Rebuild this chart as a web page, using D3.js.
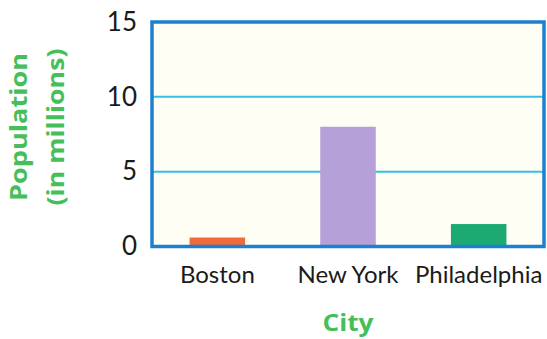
<!DOCTYPE html>
<html>
<head>
<meta charset="utf-8">
<script src="https://cdn.jsdelivr.net/npm/d3@7/dist/d3.min.js"></script>
<style>
  html, body { margin: 0; padding: 0; background: #ffffff; }
  svg { display: block; }
</style>
</head>
<body>
<svg id="chart" width="547" height="339"></svg>
<script>
// City populations, in millions
const cities = ["Boston", "New York", "Philadelphia"];
const population = [0.6, 8.0, 1.5];
const barColors = ["#f06a3c", "#b5a0d8", "#1daa72"];
const yTicks = [0, 5, 10, 15];

const svg = d3.select("#chart");
const plot = { left: 152, right: 544, top: 22, bottom: 246.5 };

const x = d3.scaleBand()
  .domain(cities)
  .range([plot.left, plot.right])
  .paddingInner(0.575)
  .paddingOuter(0.2875);

const y = d3.scaleLinear()
  .domain([0, 15])
  .range([plot.bottom, plot.top]);

// plot background
svg.append("rect")
  .attr("x", plot.left).attr("y", plot.top)
  .attr("width", plot.right - plot.left)
  .attr("height", plot.bottom - plot.top)
  .attr("fill", "#fffef5");

// horizontal gridlines
svg.append("g")
  .selectAll("line")
  .data(yTicks.filter(t => t > 0 && t < 15))
  .join("line")
  .attr("x1", plot.left).attr("x2", plot.right)
  .attr("y1", d => y(d)).attr("y2", d => y(d))
  .attr("stroke", "#34c0e6")
  .attr("stroke-width", 2);

// bars
svg.append("g")
  .selectAll("rect")
  .data(cities)
  .join("rect")
  .attr("x", d => x(d))
  .attr("width", x.bandwidth())
  .attr("y", (d, i) => y(population[i]))
  .attr("height", (d, i) => y(0) - y(population[i]))
  .attr("fill", (d, i) => barColors[i]);

// frame
svg.append("rect")
  .attr("x", plot.left).attr("y", plot.top)
  .attr("width", plot.right - plot.left)
  .attr("height", plot.bottom - plot.top)
  .attr("fill", "none")
  .attr("stroke", "#1c80cf")
  .attr("stroke-width", 3.5);

const labelFont = "Lato, 'Liberation Sans', Arial, sans-serif";

// y axis tick labels
const yAxis = d3.axisLeft(y).tickValues(yTicks).tickSize(0).tickPadding(15);
const gy = svg.append("g")
  .attr("transform", `translate(${plot.left},0)`)
  .call(yAxis);
gy.select(".domain").remove();
gy.selectAll("text")
  .attr("font-family", labelFont)
  .attr("font-size", 26)
  .attr("fill", "#1a1a1a");

// x axis category labels
const xAxis = d3.axisBottom(x).tickSize(0).tickPadding(0);
const gx = svg.append("g")
  .attr("transform", `translate(0,${plot.bottom})`)
  .call(xAxis);
gx.select(".domain").remove();
gx.selectAll("text")
  .attr("dy", null)
  .attr("y", 36)
  .attr("font-family", labelFont)
  .attr("font-size", 24)
  .attr("fill", "#1a1a1a");

// axis titles
const titleFont = "'Open Sans', 'Liberation Sans', Arial, sans-serif";
const green = "#46bf5a";

svg.append("text")
  .attr("transform", "translate(26.5,127) rotate(-90)")
  .attr("text-anchor", "middle")
  .attr("font-family", titleFont)
  .attr("font-weight", "bold")
  .attr("font-size", 24)
  .attr("fill", green)
  .attr("textLength", 148)
  .attr("lengthAdjust", "spacingAndGlyphs")
  .text("Population");

svg.append("text")
  .attr("transform", "translate(64,127) rotate(-90)")
  .attr("text-anchor", "middle")
  .attr("font-family", titleFont)
  .attr("font-weight", "bold")
  .attr("font-size", 24)
  .attr("fill", green)
  .attr("textLength", 157)
  .attr("lengthAdjust", "spacingAndGlyphs")
  .text("(in millions)");

svg.append("text")
  .attr("x", 348)
  .attr("y", 331)
  .attr("text-anchor", "middle")
  .attr("font-family", titleFont)
  .attr("font-weight", "bold")
  .attr("font-size", 23)
  .attr("fill", green)
  .attr("textLength", 51)
  .attr("lengthAdjust", "spacingAndGlyphs")
  .text("City");
</script>
</body>
</html>
